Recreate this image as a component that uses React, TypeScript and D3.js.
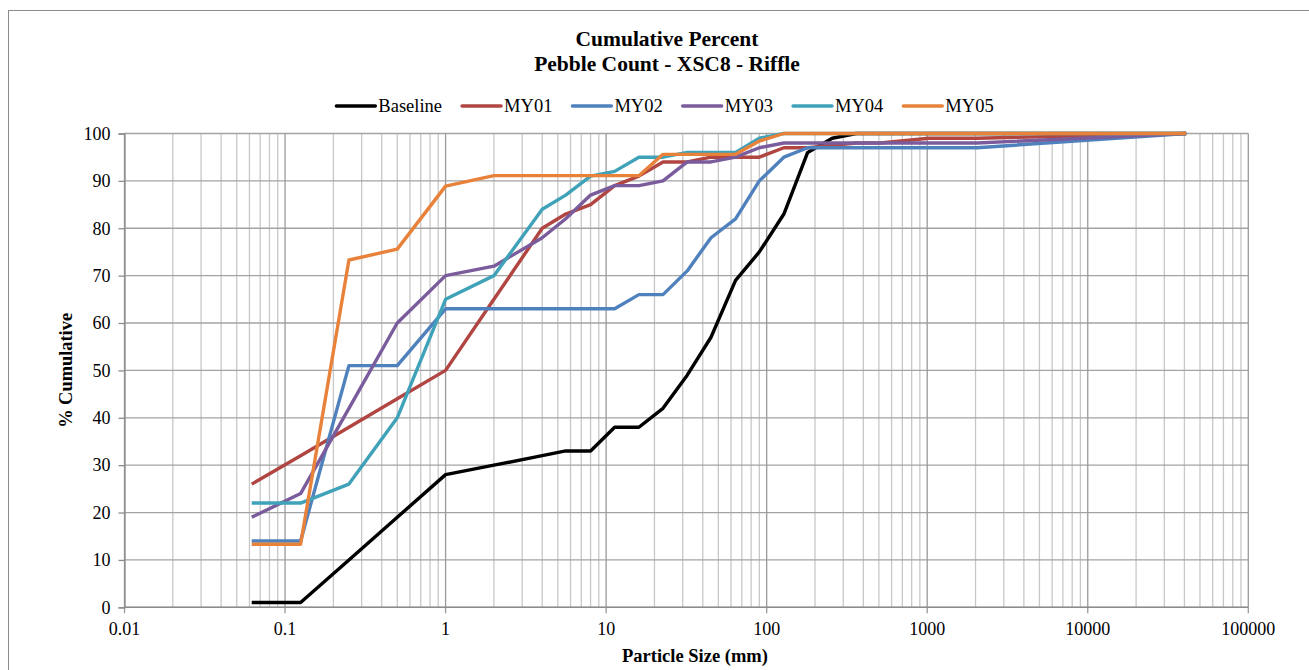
import { useEffect, useRef } from "react";
import * as d3 from "d3";

// particle sizes (mm) used by the pebble count classes
const sizes = [0.062, 0.125, 0.25, 0.5, 1, 2, 4, 5.6, 8, 11.3, 16, 22.6, 32, 45, 64, 90, 128, 180, 256, 362, 512, 1024, 2048, 41000];

const baseline = [1, 1, 10, 19, 28, 30, 32, 33, 33, 38, 38, 42, 49, 57, 69, 75, 83, 96, 99, 100, 100, 100, 100, 100];
const my01 = [26, 32, 38, 44, 50, 65, 80, 83, 85, 89, 91, 94, 94, 95, 95, 95, 97, 97, 97.5, 98, 98, 99, 99, 100];
const my02 = [14, 14, 51, 51, 63, 63, 63, 63, 63, 63, 66, 66, 71, 78, 82, 90, 95, 97, 97, 97, 97, 97, 97, 100];
const my03 = [19, 24, 42, 60, 70, 72, 78, 82, 87, 89, 89, 90, 94, 94, 95, 97, 98, 98, 98, 98, 98, 98, 98, 100];
const my04 = [22, 22, 26, 40, 65, 70, 84, 87, 91, 92, 95, 95, 96, 96, 96, 99, 100, 100, 100, 100, 100, 100, 100, 100];
const my05 = [13.3, 13.3, 73.3, 75.6, 88.9, 91.1, 91.1, 91.1, 91.1, 91.1, 91.1, 95.6, 95.6, 95.6, 95.6, 98.4, 100, 100, 100, 100, 100, 100, 100, 100];

const seriesNames = ["Baseline", "MY01", "MY02", "MY03", "MY04", "MY05"];
const seriesValues = [baseline, my01, my02, my03, my04, my05];
const seriesColors = ["#000000", "#B04542", "#4F81BD", "#7A5C9C", "#3FA2B9", "#E8823A"];

const yTicks = [0, 10, 20, 30, 40, 50, 60, 70, 80, 90, 100];
const xTickLabels = ["0.01", "0.1", "1", "10", "100", "1000", "10000", "100000"];

const FONT = "'Liberation Serif', 'Times New Roman', serif";

export default function App() {
  const svgRef = useRef<SVGSVGElement>(null);

  useEffect(() => {
    if (!svgRef.current) return;
    const width = 1309;
    const height = 670;
    const plot = { left: 124.5, right: 1248.3, top: 133.5, bottom: 607.3 };

    const svg = d3.select(svgRef.current);
    svg.selectAll("*").remove();
    svg.attr("width", width).attr("height", height);

    const x = d3.scaleLog().domain([0.01, 100000]).range([plot.left, plot.right]);
    const y = d3.scaleLinear().domain([0, 100]).range([plot.bottom, plot.top]);

    // outer chart border
    svg.append("rect")
      .attr("x", 8.5).attr("y", 10.5)
      .attr("width", 1310).attr("height", 680)
      .attr("fill", "#fff").attr("stroke", "#8c8c8c").attr("stroke-width", 1);

    // minor vertical grid
    const decades = xTickLabels.map((d) => +d);
    svg.append("g")
      .selectAll("line")
      .data(x.ticks().filter((t) => !decades.some((d) => Math.abs(d - t) / d < 1e-6)))
      .join("line")
      .attr("x1", (d) => x(d)).attr("x2", (d) => x(d))
      .attr("y1", plot.top).attr("y2", plot.bottom)
      .attr("stroke", "#c8c8c8").attr("stroke-width", 1.3);

    // horizontal grid
    svg.append("g")
      .selectAll("line")
      .data(yTicks)
      .join("line")
      .attr("x1", plot.left).attr("x2", plot.right)
      .attr("y1", (d) => y(d)).attr("y2", (d) => y(d))
      .attr("stroke", "#a3a3a3").attr("stroke-width", 1.3);

    // decade lines (with tick below axis)
    svg.append("g")
      .selectAll("line")
      .data(decades)
      .join("line")
      .attr("x1", (d) => x(d)).attr("x2", (d) => x(d))
      .attr("y1", plot.top).attr("y2", plot.bottom + 6)
      .attr("stroke", "#9a9a9a").attr("stroke-width", 1.3);

    // y axis
    const yAxis = svg.append("g").attr("transform", `translate(${plot.left},0)`)
      .call(d3.axisLeft(y).tickValues(yTicks).tickSize(6).tickPadding(8));
    yAxis.select(".domain").attr("stroke", "#8c8c8c").attr("stroke-width", 1.3);
    yAxis.selectAll(".tick line").attr("stroke", "#8c8c8c").attr("stroke-width", 1.3);
    yAxis.selectAll(".tick text").attr("fill", "#000").attr("font-family", FONT).attr("font-size", 18);

    // x axis line + labels
    svg.append("line")
      .attr("x1", plot.left).attr("x2", plot.right)
      .attr("y1", plot.bottom).attr("y2", plot.bottom)
      .attr("stroke", "#8c8c8c").attr("stroke-width", 1.5);

    svg.append("g")
      .selectAll("text")
      .data(xTickLabels)
      .join("text")
      .attr("x", (d) => x(+d))
      .attr("y", plot.bottom + 28)
      .attr("text-anchor", "middle")
      .attr("font-family", FONT)
      .attr("font-size", 18)
      .text((d) => d);

    // series
    const line = d3.line<number>()
      .x((_, i) => x(sizes[i]))
      .y((d) => y(d));

    seriesValues.forEach((vals, i) => {
      svg.append("path")
        .datum(vals)
        .attr("fill", "none")
        .attr("stroke", seriesColors[i])
        .attr("stroke-width", 3.4)
        .attr("stroke-linejoin", "round")
        .attr("d", line);
    });

    // titles
    const title = svg.append("text")
      .attr("text-anchor", "middle")
      .attr("font-family", FONT)
      .attr("font-weight", "bold")
      .attr("font-size", 21.5);
    title.append("tspan").attr("x", 667).attr("y", 46).text("Cumulative Percent");
    title.append("tspan").attr("x", 667).attr("y", 71).text("Pebble Count - XSC8 - Riffle");

    svg.append("text")
      .attr("transform", `translate(72,${(plot.top + plot.bottom) / 2}) rotate(-90)`)
      .attr("text-anchor", "middle")
      .attr("font-family", FONT)
      .attr("font-weight", "bold")
      .attr("font-size", 18.4)
      .text("% Cumulative");

    svg.append("text")
      .attr("x", 695)
      .attr("y", 662)
      .attr("text-anchor", "middle")
      .attr("font-family", FONT)
      .attr("font-weight", "bold")
      .attr("font-size", 18.5)
      .text("Particle Size (mm)");

    // legend
    const legend = svg.append("g");
    const lineLen = 39;
    const items = seriesNames.map((name, i) => {
      const g = legend.append("g");
      g.append("line")
        .attr("x1", 0).attr("x2", lineLen)
        .attr("y1", 0).attr("y2", 0)
        .attr("stroke", seriesColors[i]).attr("stroke-width", 3.4)
        .attr("stroke-linecap", "round");
      const t = g.append("text")
        .attr("x", lineLen + 3)
        .attr("y", 6)
        .attr("font-family", FONT)
        .attr("font-size", 18.5)
        .text(name);
      const w = (t.node() as SVGTextElement).getComputedTextLength();
      return { g, w: lineLen + 3 + w };
    });
    const gap = 20;
    const total = d3.sum(items, (d) => d.w) + gap * (items.length - 1);
    let cx = 665 - total / 2;
    items.forEach((it) => {
      it.g.attr("transform", `translate(${cx},106)`);
      cx += it.w + gap;
    });
  }, []);

  return (
    <svg
      ref={svgRef}
      style={{ position: "absolute", left: 0, top: 0, display: "block", background: "#fff" }}
    />
  );
}
